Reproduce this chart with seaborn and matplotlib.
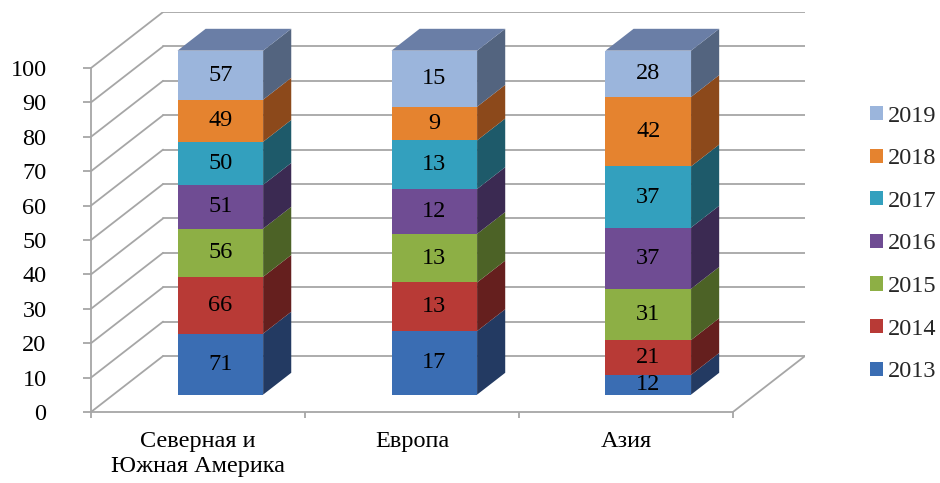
import numpy as np
import matplotlib
matplotlib.use("Agg")
import matplotlib.pyplot as plt
import seaborn as sns
from matplotlib.patches import Polygon, Patch

# ---- data ----
regions = ["Северная и\nЮжная Америка", "Европа", "Азия"]
years = ["2013", "2014", "2015", "2016", "2017", "2018", "2019"]
v2013 = [71, 17, 12]
v2014 = [66, 13, 21]
v2015 = [56, 13, 31]
v2016 = [51, 12, 37]
v2017 = [50, 13, 37]
v2018 = [49, 9, 42]
v2019 = [57, 15, 28]

front_colors = ["#3A6DB3", "#B83A36", "#8DAF45", "#6F4C93", "#33A0BE", "#E5832F", "#9BB5DC"]
side_colors = ["#233A62", "#651F1E", "#4C6226", "#3B2A52", "#1E5A6A", "#8C491B", "#53647F"]
top_color = "#6A7EA6"
grid_color = "#A6A6A6"

sns.set_style("white")
plt.rcParams["font.family"] = ["Liberation Serif", "DejaVu Serif"]
FS = 17.5

values = np.array([v2013, v2014, v2015, v2016, v2017, v2018, v2019], dtype=float)
pct = values / values.sum(axis=0) * 100
cum = np.cumsum(pct, axis=0)

fig = plt.figure(figsize=(9.4, 4.83), dpi=100)
ax = fig.add_axes([91 / 940, 71 / 483, 714 / 940, 400 / 483])

DX = 72 / (641 / 3)       # depth offset in category units
DY = 56 / 3.44            # depth offset in percent units
F0, F1 = 0.31, 0.70       # bar depth fractions
W = 0.40

ax.set_xlim(-0.5, 2.5 + DX)
ax.set_ylim(0, 100 + DY)

# walls & floor
lw = 1.3
for k in range(0, 101, 10):
    ax.plot([-0.5 + DX, 2.5 + DX], [k + DY, k + DY], color=grid_color, lw=lw, zorder=1)
    ax.plot([-0.5, -0.5 + DX], [k, k + DY], color=grid_color, lw=lw, zorder=1)
ax.plot([2.5, 2.5 + DX], [0, DY], color=grid_color, lw=lw, zorder=1)

# front faces (layered cumulative bars)
xpos = np.arange(len(regions)) + F0 * DX
base = F0 * DY
for k in reversed(range(len(years))):
    sns.barplot(x=xpos, y=cum[k], native_scale=True, width=W, color=front_colors[k],
                saturation=1, errorbar=None, bottom=base, linewidth=0, zorder=3, ax=ax)

ddx, ddy = (F1 - F0) * DX, (F1 - F0) * DY
for i in range(len(regions)):
    xl = xpos[i] - W / 2
    xr = xpos[i] + W / 2
    for k in range(len(years)):
        y0 = base + cum[k, i] - pct[k, i]
        y1 = base + cum[k, i]
        ax.add_patch(Polygon([(xr, y0), (xr + ddx, y0 + ddy), (xr + ddx, y1 + ddy), (xr, y1)],
                             closed=True, facecolor=side_colors[k], edgecolor="none", zorder=3))
        ax.text(xpos[i], (y0 + y1) / 2, f"{int(values[k, i])}", ha="center", va="center",
                fontsize=FS, color="black", zorder=5)
    ytop = base + cum[-1, i]
    ax.add_patch(Polygon([(xl, ytop), (xl + ddx, ytop + ddy), (xr + ddx, ytop + ddy), (xr, ytop)],
                         closed=True, facecolor=top_color, edgecolor="none", zorder=3))

# axes styling
for s in ["top", "right"]:
    ax.spines[s].set_visible(False)
for s in ["left", "bottom"]:
    ax.spines[s].set_color(grid_color)
    ax.spines[s].set_linewidth(lw)
ax.spines["left"].set_bounds(0, 100)
ax.spines["bottom"].set_bounds(-0.5, 2.5)

ax.set_yticks(range(0, 101, 10))
ax.tick_params(axis="y", which="major", left=True, direction="out", length=6, width=lw,
               color=grid_color, pad=26, labelsize=FS, labelcolor="black")
ax.set_xticks([-0.5, 0.5, 1.5, 2.5])
ax.set_xticklabels([])
ax.set_xticks([0, 1, 2], minor=True)
ax.set_xticklabels(regions, minor=True, fontsize=FS, linespacing=1.24)
ax.tick_params(axis="x", which="major", bottom=True, direction="out", length=4.5, width=lw,
               color=grid_color)
ax.tick_params(axis="x", which="minor", bottom=True, length=0, pad=14, labelcolor="black")
ax.set_xlabel("")
ax.set_ylabel("")
ax.grid(False)

handles = [Patch(facecolor=front_colors[k], edgecolor="none", label=years[k])
           for k in reversed(range(len(years)))]
fig.legend(handles=handles, loc="center left", bbox_to_anchor=(870 / 940, 1 - 244 / 483),
           frameon=False, fontsize=FS, handlelength=0.52, handleheight=0.52,
           handletextpad=0.22, labelspacing=0.89, borderpad=0, borderaxespad=0)

fig.savefig("out.png", dpi=100)
